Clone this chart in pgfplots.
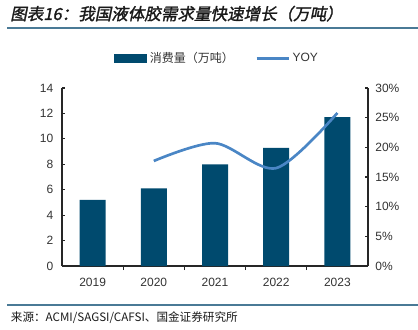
\documentclass[border=0pt]{standalone}
\usepackage{fontspec}
\usepackage{pgfplots}
\pgfplotsset{compat=1.18}
\setmainfont{Liberation Sans}
\newfontfamily\cjk{Noto Sans CJK SC}
\newfontfamily\cjktitle[FakeSlant=0.2,FakeBold=1.5]{Noto Sans CJK SC}
\definecolor{barc}{HTML}{004A6E}
\definecolor{linec}{HTML}{4A86C5}
\definecolor{rulec}{HTML}{4A7A96}
\definecolor{txt}{HTML}{1A1A1A}
\definecolor{ticktxt}{HTML}{333333}
\begin{document}
\begin{tikzpicture}
\path[use as bounding box] (0,0) rectangle (313.5pt,246.75pt);
\node[anchor=west, inner sep=0, text=txt, font=\cjktitle\fontsize{12.4}{14}\selectfont] at (7.5pt,236.5pt) {图表16：我国液体胶需求量快速增长（万吨）};
\draw[rulec, line width=1.5pt] (5.5pt,225.4pt) -- (313.5pt,225.4pt);
\draw[rulec, line width=1.2pt] (5.5pt,18pt) -- (313.5pt,18pt);
\node[anchor=west, inner sep=0, text=txt, font=\cjk\fontsize{8.7}{10}\selectfont] at (8pt,8.3pt) {来源：ACMI/SAGSI/CAFSI、国金证券研究所};

\begin{axis}[
  at={(46.5pt,47.25pt)}, anchor=south west, scale only axis,
  width=229.5pt, height=133.5pt,
  xmin=-0.5, xmax=4.5, ymin=0, ymax=14,
  axis x line*=bottom, axis y line*=left,
  axis line style={line width=0.9pt, black!85},
  xtick={0,1,2,3,4}, xticklabels={2019,2020,2021,2022,2023},
  major x tick style={draw=none},
  minor xtick={0.5,1.5,2.5,3.5},
  minor x tick style={line width=0.8pt, black!85},
  xtick align=outside, ytick align=inside,
  minor tick length=3pt, major tick length=2.5pt,
  ytick={0,2,...,14},
  y tick style={line width=0.8pt, black!85},
  tick label style={font=\fontsize{9}{10}\selectfont, text=ticktxt},
  /pgf/number format/assume math mode=true,
  xticklabel style={yshift=-3pt},
  yticklabel style={xshift=-3pt},
  legend columns=2,
  legend style={at={(0.17,1.165)}, anchor=west, draw=none, fill=none,
    inner sep=0pt, font=\fontsize{9}{10}\selectfont, text=ticktxt,
    /tikz/every even column/.append style={column sep=14pt}},
  legend cell align=left,
]
\addplot[ybar, bar width=19.5pt, bar shift=0pt, fill=barc, draw=none,
  legend image code/.code={\fill[barc] (0pt,-3.4pt) rectangle (24.75pt,3.4pt);}]
  coordinates {(0,5.2) (1,6.1) (2,8.0) (3,9.3) (4,11.7)};
\addlegendentry{\cjk 消费量（万吨）}
\addlegendimage{linec, line width=2pt, legend image code/.code={\draw[linec, line width=2pt] (0pt,0pt) -- (24pt,0pt);}}
\addlegendentry{YOY}
\end{axis}

\begin{axis}[
  at={(46.5pt,47.25pt)}, anchor=south west, scale only axis,
  width=229.5pt, height=133.5pt,
  xmin=-0.5, xmax=4.5, ymin=0, ymax=30,
  axis x line=none, axis y line*=right,
  axis line style={line width=0.9pt, black!85},
  ytick={0,5,...,30},
  yticklabel={\pgfmathprintnumber{\tick}\%},
  ytick align=inside, major tick length=2.5pt,
  y tick style={line width=0.8pt, black!85},
  tick label style={font=\fontsize{9}{10}\selectfont, text=ticktxt},
  /pgf/number format/assume math mode=true,
  yticklabel style={xshift=2pt},
]
\addplot[linec, line width=2pt, smooth, no markers]
  coordinates {(1,17.7) (2,20.7) (3,16.5) (4,25.8)};
\end{axis}
\end{tikzpicture}
\end{document}
